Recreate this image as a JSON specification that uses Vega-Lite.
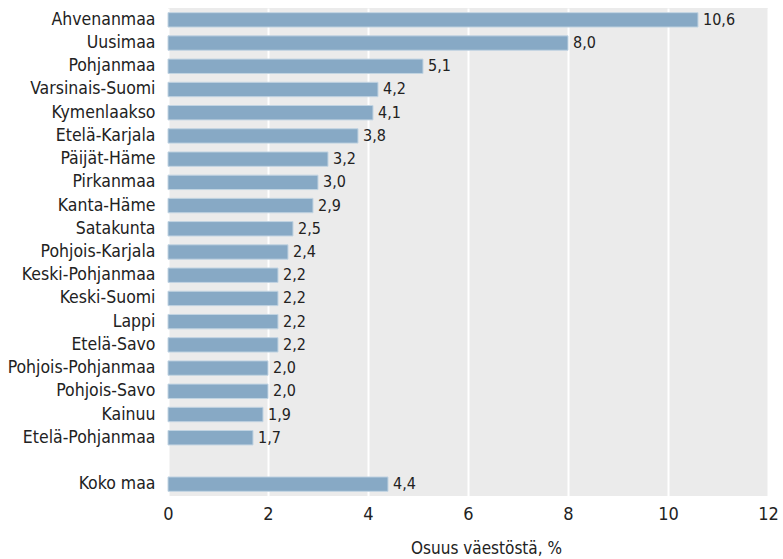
{
  "$schema": "https://vega.github.io/schema/vega-lite/v6.json",
  "width": 600,
  "height": 488,
  "autosize": {"type": "none"},
  "padding": {"left": 168, "top": 8, "right": 15, "bottom": 63},
  "background": "white",
  "config": {
    "locale": {"number": {"decimal": ",", "thousands": " ", "grouping": [3], "currency": ["", " €"]}},
    "font": "DejaVu Sans Condensed, Roboto",
    "view": {"fill": "#ebebeb", "stroke": null}
  },
  "data": {
    "values": [
      {"alue": "Ahvenanmaa", "osuus": 10.6},
      {"alue": "Uusimaa", "osuus": 8.0},
      {"alue": "Pohjanmaa", "osuus": 5.1},
      {"alue": "Varsinais-Suomi", "osuus": 4.2},
      {"alue": "Kymenlaakso", "osuus": 4.1},
      {"alue": "Etelä-Karjala", "osuus": 3.8},
      {"alue": "Päijät-Häme", "osuus": 3.2},
      {"alue": "Pirkanmaa", "osuus": 3.0},
      {"alue": "Kanta-Häme", "osuus": 2.9},
      {"alue": "Satakunta", "osuus": 2.5},
      {"alue": "Pohjois-Karjala", "osuus": 2.4},
      {"alue": "Keski-Pohjanmaa", "osuus": 2.2},
      {"alue": "Keski-Suomi", "osuus": 2.2},
      {"alue": "Lappi", "osuus": 2.2},
      {"alue": "Etelä-Savo", "osuus": 2.2},
      {"alue": "Pohjois-Pohjanmaa", "osuus": 2.0},
      {"alue": "Pohjois-Savo", "osuus": 2.0},
      {"alue": "Kainuu", "osuus": 1.9},
      {"alue": "Etelä-Pohjanmaa", "osuus": 1.7},
      {"alue": "Koko maa", "osuus": 4.4}
    ]
  },
  "encoding": {
    "y": {
      "field": "alue",
      "type": "nominal",
      "sort": null,
      "scale": {
        "domain": ["Ahvenanmaa", "Uusimaa", "Pohjanmaa", "Varsinais-Suomi", "Kymenlaakso", "Etelä-Karjala", "Päijät-Häme", "Pirkanmaa", "Kanta-Häme", "Satakunta", "Pohjois-Karjala", "Keski-Pohjanmaa", "Keski-Suomi", "Lappi", "Etelä-Savo", "Pohjois-Pohjanmaa", "Pohjois-Savo", "Kainuu", "Etelä-Pohjanmaa", " ", "Koko maa"],
        "paddingInner": 0.38,
        "paddingOuter": 0.2
      },
      "axis": {
        "title": null,
        "domain": false,
        "ticks": false,
        "labelPadding": 13,
        "labelFontSize": 17.5,
        "labelColor": "#222222"
      }
    }
  },
  "layer": [
    {
      "mark": {"type": "bar", "color": "#87a9c5", "stroke": "#c2d4e2", "strokeWidth": 1},
      "encoding": {
        "x": {
          "field": "osuus",
          "type": "quantitative",
          "scale": {"domain": [0, 12], "nice": false},
          "axis": {
            "title": "Osuus väestöstä, %",
            "titleFontSize": 17,
            "titleFontWeight": "normal",
            "titleColor": "#222222",
            "titleX": 318,
            "titleY": 44,
            "titleAnchor": "middle",
            "titleAlign": "center",
            "values": [0, 2, 4, 6, 8, 10, 12],
            "format": "d",
            "labelFontSize": 18,
            "labelColor": "#222222",
            "labelPadding": 9,
            "labelFlush": false,
            "domain": false,
            "ticks": false,
            "grid": true,
            "gridColor": "white",
            "gridWidth": 2
          }
        }
      }
    },
    {
      "mark": {"type": "text", "align": "left", "baseline": "middle", "dx": 5, "fontSize": 16, "color": "#222222"},
      "encoding": {
        "x": {"field": "osuus", "type": "quantitative"},
        "text": {"field": "osuus", "type": "quantitative", "format": ".1f"}
      }
    }
  ]
}
